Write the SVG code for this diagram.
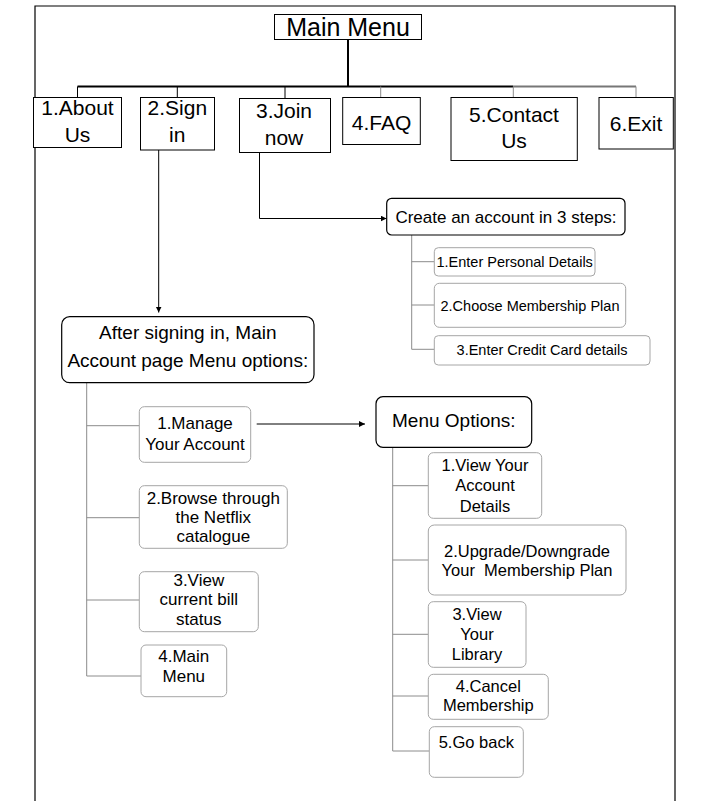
<svg xmlns="http://www.w3.org/2000/svg" width="707" height="801" viewBox="0 0 707 801">
<defs>
<marker id="arr" markerUnits="userSpaceOnUse" markerWidth="7" markerHeight="7" refX="6" refY="3" orient="auto">
<path d="M0,0 L6,3 L0,6 z" fill="#000"/>
</marker>
<style>
text{font-family:"Liberation Sans",Arial,sans-serif;fill:#000;text-anchor:middle}
.top{font-size:21px}
.box{fill:#fff;stroke:#000;stroke-width:1}
.rbox{fill:#fff;stroke:#000;stroke-width:1.2}
.gbox{fill:#fff;stroke:#a6a6a6;stroke-width:1}
.s15{font-size:14.5px}
.s17{font-size:17px}
.s165{font-size:16.5px}
.s19{font-size:19px}
.blk{fill:none;stroke:#000;stroke-width:1}
.gry{fill:none;stroke:#8c8c8c;stroke-width:1}
</style>
</defs>
<rect width="707" height="801" fill="#fff"/>
<path id="frame" d="M35,801 V6 H675 V801" fill="none" stroke="#000" stroke-width="1.2"/>

<g id="connectors">
<path d="M348,39.5 V86.5" fill="none" stroke="#000" stroke-width="2"/>
<path d="M77.5,86.5 H513" fill="none" stroke="#000" stroke-width="1.8"/>
<path d="M513,86.5 H636" fill="none" stroke="#777" stroke-width="1.8"/>
<path class="blk" d="M77.5,86.5 V97 M177.3,86.5 V97 M285,86.5 V98"/>
<path class="gry" d="M380.7,86.5 V97 M513.3,86.5 V97 M636,86.5 V97"/>
<path class="blk" d="M158.7,150 V312.5" marker-end="url(#arr)"/>
<path class="blk" d="M259.5,152 V218.5 H386.5" marker-end="url(#arr)"/>
<path class="blk" d="M256.7,424 H365" marker-end="url(#arr)"/>
<path class="gry" d="M411.7,235 V349.3 H434.3 M411.7,261.7 H434.3 M411.7,305 H434.3"/>
<path class="gry" d="M86.7,382.7 V676 H141 M86.7,425.7 H139.3 M86.7,517.7 H139.3 M86.7,600 H139.3"/>
<path class="gry" d="M392.7,447.3 V751 H429.3 M392.7,485.7 H428.3 M392.7,560 H428.3 M392.7,634.3 H428.3 M392.7,696 H428.3"/>
</g>

<g id="main-menu">
<rect class="box" x="274.5" y="14.5" width="147" height="25"/>
<text x="348" y="36" style="font-size:25px">Main Menu</text>
</g>
<g id="about-us">
<rect class="box" x="33.5" y="97.5" width="88" height="50"/>
<text class="top" x="77.5" y="115">1.About</text>
<text class="top" x="77.5" y="141.7">Us</text>
</g>
<g id="sign-in">
<rect class="box" x="140.5" y="97.5" width="74" height="52.5"/>
<text class="top" x="177.3" y="115">2.Sign</text>
<text class="top" x="177.3" y="141.7">in</text>
</g>
<g id="join-now">
<rect class="box" x="239.5" y="98.5" width="91" height="54"/>
<text class="top" x="284" y="118.3">3.Join</text>
<text class="top" x="284" y="145">now</text>
</g>
<g id="faq">
<rect class="box" x="342.7" y="97.5" width="77.6" height="47"/>
<text class="top" x="381.5" y="130">4.FAQ</text>
</g>
<g id="contact-us">
<rect class="box" x="451" y="97.5" width="126.3" height="63"/>
<text class="top" x="514" y="121.7">5.Contact</text>
<text class="top" x="514" y="148.3">Us</text>
</g>
<g id="exit">
<rect class="box" x="599" y="97.5" width="74.3" height="51.5"/>
<text class="top" x="636" y="130.7">6.Exit</text>
</g>

<g id="create-account">
<rect class="rbox" x="386.7" y="198.3" width="238.3" height="36.7" rx="5"/>
<text class="s17" x="506" y="223">Create an account in 3 steps:</text>
</g>
<g id="step-1">
<rect class="gbox" x="434.3" y="247.7" width="160.7" height="28.3" rx="4"/>
<text class="s15" x="514.7" y="266.5">1.Enter Personal Details</text>
</g>
<g id="step-2">
<rect class="gbox" x="434.3" y="283.3" width="191.4" height="44" rx="5"/>
<text class="s15" x="530" y="310.5">2.Choose Membership Plan</text>
</g>
<g id="step-3">
<rect class="gbox" x="434.3" y="335.7" width="215.7" height="29.3" rx="4"/>
<text class="s15" x="542" y="354.5">3.Enter Credit Card details</text>
</g>

<g id="after-sign-in">
<rect class="rbox" x="61.7" y="316.7" width="252.3" height="66" rx="8"/>
<text class="s19" x="187.8" y="338.5">After signing in, Main</text>
<text class="s19" x="187.8" y="366.5">Account page Menu options:</text>
</g>
<g id="manage-account">
<rect class="gbox" x="139.3" y="406.7" width="111.4" height="55.6" rx="5"/>
<text class="s17" x="195" y="429">1.Manage</text>
<text class="s17" x="195" y="450">Your Account</text>
</g>
<g id="browse">
<rect class="gbox" x="139.3" y="485.7" width="148" height="62.6" rx="5"/>
<text class="s17" x="213.3" y="503.5">2.Browse through</text>
<text class="s17" x="213.3" y="522.7">the Netflix</text>
<text class="s17" x="213.3" y="541.7">catalogue</text>
</g>
<g id="view-bill">
<rect class="gbox" x="139.3" y="571.7" width="119" height="60" rx="5"/>
<text class="s17" x="198.8" y="586">3.View</text>
<text class="s17" x="198.8" y="605">current bill</text>
<text class="s17" x="198.8" y="625">status</text>
</g>
<g id="back-main-menu">
<rect class="gbox" x="141" y="645" width="85.7" height="51.7" rx="5"/>
<text class="s17" x="183.8" y="661.7">4.Main</text>
<text class="s17" x="183.8" y="681.7">Menu</text>
</g>

<g id="menu-options">
<rect class="rbox" x="376" y="396.7" width="155.7" height="50.6" rx="7"/>
<text class="s19" x="453.8" y="427.3">Menu Options:</text>
</g>
<g id="view-account">
<rect class="gbox" x="428.3" y="452.7" width="113.4" height="65.6" rx="5"/>
<text class="s165" x="485" y="471">1.View Your</text>
<text class="s165" x="485" y="490.7">Account</text>
<text class="s165" x="485" y="511.7">Details</text>
</g>
<g id="upgrade">
<rect class="gbox" x="428.3" y="525" width="197.7" height="70" rx="6"/>
<text class="s165" x="527" y="556.7">2.Upgrade/Downgrade</text>
<text class="s165" x="527" y="575.7" xml:space="preserve">Your  Membership Plan</text>
</g>
<g id="view-library">
<rect class="gbox" x="428.3" y="601.7" width="97.7" height="65.6" rx="5"/>
<text class="s165" x="477" y="620">3.View</text>
<text class="s165" x="477" y="640">Your</text>
<text class="s165" x="477" y="660">Library</text>
</g>
<g id="cancel">
<rect class="gbox" x="428.3" y="674.3" width="120" height="45" rx="5"/>
<text class="s165" x="488.3" y="691.7">4.Cancel</text>
<text class="s165" x="488.3" y="711">Membership</text>
</g>
<g id="go-back">
<rect class="gbox" x="429.3" y="726.7" width="94" height="50.6" rx="5"/>
<text class="s165" x="476.3" y="747.5">5.Go back</text>
</g>
</svg>
